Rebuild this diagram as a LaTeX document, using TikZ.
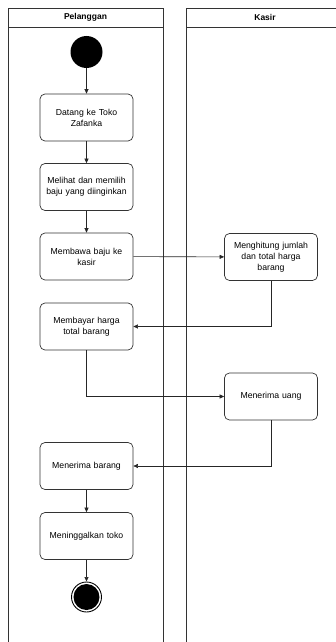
\documentclass[tikz,border=0pt]{standalone}
\usepackage{fontspec}
\setmainfont{Liberation Sans}
\usetikzlibrary{arrows.meta}
\begin{document}
\begin{tikzpicture}[x=1pt,y=-1pt,
  lane/.style={draw=black!80,line width=0.8pt},
  act/.style={draw=black!80,line width=0.7pt,rounded corners=5pt,minimum width=93pt,minimum height=47pt,align=center,text width=90pt,font=\fontsize{8.7}{11}\selectfont,inner sep=1pt},
  flow/.style={draw=black!85,line width=0.6pt,-{Triangle[length=4.5pt,width=4pt]}},
  hdr/.style={font=\fontsize{8.5}{10}\selectfont\bfseries}]
\useasboundingbox (0,0) rectangle (336,642);
\begin{scope}
\clip (0,0) rectangle (336,642);
% lanes
\draw[lane] (8,650) -- (8,8) -- (163,8) -- (163,650);
\draw[lane] (8,27) -- (163,27);
\draw[lane] (186,650) -- (186,8) -- (345,8);
\draw[lane] (186,27) -- (345,27);
\end{scope}
\node[hdr] (h1) at (85.5,17.5) {Pelanggan};
\node[hdr] (h2) at (265,17.5) {Kasir};
% nodes
\node[circle,fill=black,minimum size=32pt,inner sep=0pt] (start) at (86.5,52) {};
\node[act] (a1) at (86.5,117.5) {Datang ke Toko\\Zafanka};
\node[act] (a2) at (86.5,187) {Melihat dan memilih\\baju yang diinginkan};
\node[act] (a3) at (86.5,256.5) {Membawa baju ke\\kasir};
\node[act] (b1) at (271,257) {Menghitung jumlah\\dan total harga\\barang};
\node[act] (a4) at (86.5,326.5) {Membayar harga\\total barang};
\node[act] (b2) at (271,396.5) {Menerima uang};
\node[act] (a5) at (86.5,466) {Menerima barang};
\node[act] (a6) at (86.5,536) {Meninggalkan toko};
\node[circle,draw=black,line width=0.9pt,minimum size=30pt,inner sep=0pt] (end) at (86.5,597) {};
\node[circle,fill=black,minimum size=26pt,inner sep=0pt] (endin) at (end.center) {};
% flows
\draw[flow] (start) -- (a1);
\draw[flow] (a1) -- (a2);
\draw[flow] (a2) -- (a3);
\draw[flow] (a3) -- (b1);
\draw[flow] (b1.south) |- (a4.east);
\draw[flow] (a4.south) |- (b2.west);
\draw[flow] (b2.south) |- (a5.east);
\draw[flow] (a5) -- (a6);
\draw[flow] (a6) -- (end);
\end{tikzpicture}
\end{document}
